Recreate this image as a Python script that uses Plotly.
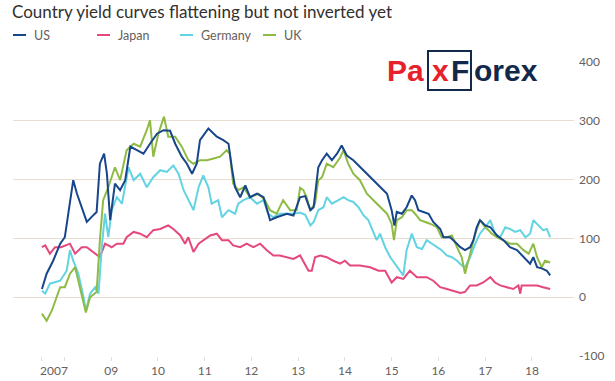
import datetime as dt
import plotly.graph_objects as go

# ---------------- data (basis points) ----------------
us_t = [2007.52, 2007.62, 2007.76, 2007.91, 2008.01, 2008.09, 2008.19, 2008.27, 2008.37, 2008.48,
        2008.59, 2008.69, 2008.76, 2008.85, 2008.91, 2008.98, 2009.08, 2009.19, 2009.30, 2009.41,
        2009.55, 2009.69, 2009.83, 2009.98, 2010.12, 2010.26, 2010.37, 2010.51, 2010.62, 2010.73,
        2010.83, 2010.90, 2011.08, 2011.26, 2011.40, 2011.51, 2011.58, 2011.65, 2011.76, 2011.87,
        2011.97, 2012.12, 2012.26, 2012.40, 2012.54, 2012.76, 2012.90, 2013.04, 2013.15, 2013.26,
        2013.33, 2013.43, 2013.51, 2013.61, 2013.72, 2013.83, 2013.93, 2014.04, 2014.18, 2014.32,
        2014.47, 2014.61, 2014.75, 2014.90, 2015.00, 2015.06, 2015.11, 2015.22, 2015.32, 2015.43,
        2015.50, 2015.57, 2015.68, 2015.79, 2015.89, 2016.04, 2016.11, 2016.25, 2016.36, 2016.47,
        2016.57, 2016.68, 2016.75, 2016.82, 2016.89, 2017.00, 2017.11, 2017.25, 2017.39, 2017.53,
        2017.68, 2017.82, 2017.96, 2018.03, 2018.11, 2018.21, 2018.32, 2018.39]
us_v = [14, 40, 62, 91, 102, 148, 199, 176, 153, 128,
        137, 145, 227, 244, 210, 131, 193, 182, 199, 256,
        250, 244, 261, 278, 284, 283, 261, 239, 227, 210,
        227, 267, 287, 273, 267, 261, 221, 187, 170, 190,
        170, 176, 170, 131, 136, 142, 139, 170, 172, 148,
        153, 221, 233, 244, 233, 244, 258, 241, 233, 221,
        210, 199, 187, 176, 148, 122, 145, 142, 153, 173,
        165, 148, 145, 142, 128, 116, 102, 102, 94, 85,
        80, 85, 97, 119, 131, 122, 119, 105, 97, 85,
        80, 68, 57, 68, 51, 49, 45, 37]

japan_t = [2007.52, 2007.59, 2007.69, 2007.80, 2007.93, 2008.05, 2008.12, 2008.23, 2008.37, 2008.48,
           2008.62, 2008.76, 2008.87, 2009.01, 2009.12, 2009.26, 2009.33, 2009.48, 2009.62, 2009.76,
           2009.90, 2010.05, 2010.22, 2010.33, 2010.48, 2010.58, 2010.65, 2010.76, 2010.87, 2010.97,
           2011.12, 2011.26, 2011.37, 2011.51, 2011.61, 2011.76, 2011.90, 2012.04, 2012.19, 2012.33,
           2012.47, 2012.61, 2012.76, 2012.90, 2013.04, 2013.15, 2013.22, 2013.29, 2013.36, 2013.47,
           2013.61, 2013.75, 2013.90, 2014.00, 2014.11, 2014.32, 2014.54, 2014.72, 2014.86, 2015.00,
           2015.11, 2015.25, 2015.39, 2015.54, 2015.75, 2015.89, 2016.04, 2016.18, 2016.32, 2016.47,
           2016.57, 2016.68, 2016.82, 2016.96, 2017.11, 2017.21, 2017.32, 2017.46, 2017.60, 2017.71,
           2017.75, 2017.78, 2017.96, 2018.11, 2018.24, 2018.39]
japan_v = [85, 88, 74, 85, 85, 88, 91, 74, 85, 85,
           77, 68, 91, 85, 91, 91, 102, 111, 108, 102,
           114, 116, 122, 116, 105, 91, 102, 77, 91, 97,
           105, 108, 97, 97, 88, 85, 91, 85, 91, 80,
           71, 71, 68, 65, 71, 56, 45, 45, 68, 71,
           68, 62, 57, 62, 54, 54, 51, 45, 45, 25,
           34, 31, 45, 34, 34, 28, 17, 14, 11, 7,
           9, 20, 20, 25, 34, 25, 20, 17, 14, 20,
           6, 20, 20, 20, 17, 14]

germany_t = [2007.52, 2007.59, 2007.69, 2007.80, 2007.91, 2008.05, 2008.12, 2008.19, 2008.30, 2008.41,
             2008.46, 2008.55, 2008.66, 2008.73, 2008.80, 2008.87, 2008.94, 2009.01, 2009.12, 2009.23,
             2009.30, 2009.37, 2009.48, 2009.62, 2009.76, 2009.90, 2010.05, 2010.19, 2010.33, 2010.44,
             2010.55, 2010.65, 2010.76, 2010.87, 2010.97, 2011.08, 2011.15, 2011.29, 2011.37, 2011.51,
             2011.65, 2011.72, 2011.83, 2011.97, 2012.12, 2012.26, 2012.36, 2012.47, 2012.61, 2012.76,
             2012.90, 2013.04, 2013.15, 2013.26, 2013.33, 2013.43, 2013.54, 2013.61, 2013.72, 2013.86,
             2013.97, 2014.07, 2014.18, 2014.29, 2014.40, 2014.50, 2014.61, 2014.68, 2014.75, 2014.86,
             2014.97, 2015.07, 2015.18, 2015.25, 2015.32, 2015.43, 2015.54, 2015.65, 2015.75, 2015.86,
             2015.97, 2016.07, 2016.18, 2016.29, 2016.40, 2016.50, 2016.57, 2016.68, 2016.79, 2016.89,
             2017.00, 2017.11, 2017.21, 2017.32, 2017.43, 2017.53, 2017.64, 2017.75, 2017.86, 2017.96,
             2018.03, 2018.14, 2018.24, 2018.32, 2018.39]
germany_v = [11, 6, 23, 26, 28, 45, 80, 62, 40, 0,
             -23, 6, 17, 6, 85, 142, 102, 148, 170, 159,
             187, 221, 199, 210, 187, 204, 216, 213, 224, 210,
             182, 165, 148, 187, 207, 187, 159, 165, 136, 148,
             142, 159, 165, 170, 159, 165, 142, 136, 142, 142,
             142, 144, 140, 122, 128, 148, 153, 170, 159, 165,
             170, 165, 162, 153, 139, 131, 111, 97, 108, 85,
             68, 57, 43, 37, 80, 108, 85, 82, 97, 91,
             85, 80, 71, 68, 62, 54, 51, 68, 91, 108,
             119, 131, 108, 102, 119, 116, 111, 114, 102, 108,
             131, 122, 114, 116, 102]

uk_t = [2007.52, 2007.62, 2007.73, 2007.80, 2007.91, 2008.01, 2008.12, 2008.23, 2008.30, 2008.41,
        2008.46, 2008.55, 2008.69, 2008.76, 2008.83, 2008.94, 2009.08, 2009.19, 2009.33, 2009.48,
        2009.62, 2009.76, 2009.83, 2009.90, 2010.01, 2010.13, 2010.22, 2010.37, 2010.51, 2010.65,
        2010.76, 2010.90, 2011.05, 2011.19, 2011.33, 2011.47, 2011.54, 2011.61, 2011.72, 2011.83,
        2011.97, 2012.15, 2012.29, 2012.40, 2012.54, 2012.68, 2012.83, 2012.97, 2013.04, 2013.11,
        2013.18, 2013.26, 2013.36, 2013.43, 2013.51, 2013.61, 2013.75, 2013.90, 2013.97, 2014.07,
        2014.18, 2014.32, 2014.47, 2014.61, 2014.75, 2014.90, 2015.00, 2015.05, 2015.11, 2015.22,
        2015.32, 2015.43, 2015.50, 2015.61, 2015.72, 2015.82, 2015.97, 2016.07, 2016.18, 2016.29,
        2016.40, 2016.50, 2016.57, 2016.64, 2016.72, 2016.79, 2016.89, 2017.00, 2017.07, 2017.14,
        2017.25, 2017.39, 2017.53, 2017.68, 2017.82, 2017.93, 2018.03, 2018.11, 2018.21, 2018.28,
        2018.39]
uk_v = [-28, -40, -23, -6, 17, 17, 40, 51, 28, -11,
        -26, 0, 9, 97, 165, 187, 221, 199, 250, 261,
        256, 284, 301, 239, 278, 307, 273, 273, 256, 233,
        227, 233, 233, 236, 239, 250, 244, 193, 182, 187,
        170, 176, 165, 148, 142, 165, 148, 148, 186, 182,
        170, 148, 159, 199, 204, 227, 221, 238, 250, 227,
        210, 199, 176, 165, 153, 142, 125, 97, 131, 136,
        148, 148, 142, 131, 128, 125, 119, 102, 102, 105,
        85, 68, 40, 62, 85, 108, 131, 119, 114, 108,
        102, 97, 91, 91, 80, 74, 91, 68, 51, 62,
        59]

x_tick_years = [2007.5, 2008, 2009, 2010, 2011, 2012, 2013, 2014, 2015, 2016, 2017, 2018]
x_tick_text = ["", "", "09", "10", "11", "12", "13", "14", "15", "16", "17", "18"]
first_label = "2007"
first_label_year = 2007.78
y_ticks = [-100, 0, 100, 200, 300, 400]
y_tick_text = ["-100", "0", "100", "200", "300", "400"]

title = "Country yield curves flattening but not inverted yet"
names = ["US", "Japan", "Germany", "UK"]
colors = {"US": "#17468a", "Japan": "#e5487c", "Germany": "#62d3e2", "UK": "#8fbb45"}


def to_date(y):
    year = int(y)
    return dt.datetime(year, 1, 1) + dt.timedelta(days=(y - year) * 365.25)


series = {
    "US": (us_t, us_v),
    "Japan": (japan_t, japan_v),
    "Germany": (germany_t, germany_v),
    "UK": (uk_t, uk_v),
}

FONT = "Lato"
GRID = "#e9ddd2"
TICKC = "#66605c"
NAVY = "#13294b"
RED = "#e8202a"

fig = go.Figure()
for name in ["Japan", "Germany", "UK", "US"]:
    t, v = series[name]
    fig.add_trace(go.Scatter(
        x=[to_date(a) for a in t], y=v, mode="lines", name=name,
        line=dict(color=colors[name], width=2), showlegend=False))

# plot-area geometry in pixels
L, T, W_PLOT, H_PLOT = 13, 62, 561, 294
def px(x):
    return (x - L) / W_PLOT
def py(y):
    return (T + H_PLOT - y) / H_PLOT

shapes = []
annotations = []

# manual legend (short line swatch + label)
leg_x = [13, 97, 180, 263]
for name, x0 in zip(names, leg_x):
    shapes.append(dict(type="line", xref="paper", yref="paper",
                       x0=px(x0), x1=px(x0 + 13), y0=py(35), y1=py(35),
                       line=dict(color=colors[name], width=2)))
    annotations.append(dict(xref="paper", yref="paper", x=px(x0 + 19), y=py(35),
                            text=name, showarrow=False, xanchor="left", yanchor="middle",
                            font=dict(family=FONT, size=12.5, color=TICKC)))

# "2007" label sits between the mid-2007 and 2008 ticks
annotations.append(dict(xref="x", yref="paper", x=to_date(first_label_year), y=0,
                        yshift=-14, text=first_label, showarrow=False,
                        xanchor="center", yanchor="middle",
                        font=dict(family=FONT, size=12, color=TICKC)))

# PaxForex watermark
logo_font = dict(family="Liberation Sans", size=30)
for txt, x0, col in [("Pa", 385, RED), ("x", 430, RED), ("F", 449, NAVY), ("orex", 472, NAVY)]:
    annotations.append(dict(xref="paper", yref="paper", x=px(x0), y=py(70), text="<b>%s</b>" % txt,
                            showarrow=False, xanchor="left", yanchor="middle",
                            font=dict(logo_font, color=col)))
shapes.append(dict(type="rect", xref="paper", yref="paper",
                   x0=px(428), x1=px(471), y0=py(90), y1=py(51),
                   line=dict(color=NAVY, width=2)))

fig.update_layout(
    width=615, height=381,
    margin=dict(l=L, r=615 - L - W_PLOT, t=T, b=381 - T - H_PLOT),
    paper_bgcolor="white", plot_bgcolor="white",
    title=dict(text=title, x=12 / 615, xref="container", xanchor="left",
               y=1 - 12 / 381, yref="container", yanchor="middle",
               font=dict(family=FONT, size=17, color="#33302e")),
    xaxis=dict(type="date", range=[to_date(2006.90), to_date(2018.90)], automargin=False,
               tickmode="array", tickvals=[to_date(a) for a in x_tick_years], ticktext=x_tick_text,
               showgrid=False, zeroline=False, showline=False,
               ticks="outside", ticklen=4, tickcolor=GRID, tickwidth=1,
               tickfont=dict(family=FONT, size=12, color=TICKC)),
    yaxis=dict(side="right", range=[-100, 400], tickmode="array", tickvals=y_ticks,
               ticktext=y_tick_text, automargin=False, ticklabelstandoff=4,
               showgrid=True, gridcolor=GRID, gridwidth=1, zeroline=False, showline=False,
               ticks="", tickfont=dict(family=FONT, size=12, color=TICKC)),
    shapes=shapes, annotations=annotations,
    showlegend=False,
)

fig.write_html("out.html", config={"displayModeBar": False},
               post_script="document.body.style.margin='0px';")
